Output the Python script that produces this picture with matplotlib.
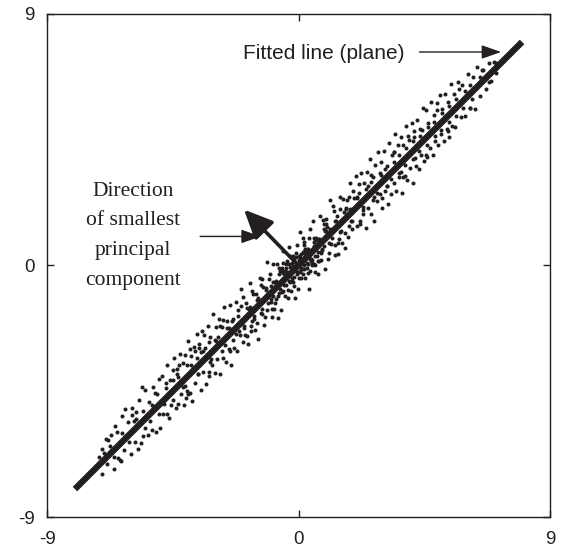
import matplotlib.pyplot as plt

# fitted line end points
line_x = [-8.0, 8.0]
line_y = [-8.0, 8.0]

# direction of smallest principal component (from origin)
pc_start = (0.0, 0.0)
pc_end = (-1.95, 2.0)

tick_vals = [-9, 0, 9]
tick_labels = ['-9', '0', '9']

# scatter points
pts_x = [
    -7.15, -7.02, -6.9, -6.85, -6.7, -6.6, -6.5, -6.45, -6.3, -6.25,
    -6.1, -6.0, -5.95, -5.85, -5.8, -5.7, -5.65, -5.55, -5.5, -5.4,
    -5.35, -5.25, -5.2, -5.1, -5.05, -4.95, -4.9, -4.85, -4.75, -4.7,
    -4.65, -4.6, -4.55, -4.5, -7.05, -6.75, -6.2, -5.9, -5.6, -5.3,
    -5.0, -4.8, -6.55, -6.35, -5.75,
    -4.45, -4.4, -4.35, -4.3, -4.25, -4.2, -4.15, -4.1, -4.05, -4.0,
    -3.95, -3.9, -3.85, -3.8, -3.75, -3.7, -3.65, -3.6, -3.55, -3.5,
    -3.45, -3.4, -3.35, -3.3, -3.25, -3.2, -3.15, -3.1, -3.05, -3.0,
    -2.95, -2.9, -2.85, -2.8, -2.75, -2.7, -2.65, -2.6, -2.55, -2.5,
    -2.45, -2.4, -2.35, -2.3, -2.25, -2.2, -2.15, -2.1, -2.05, -2.0,
    -4.48, -4.12, -3.88, -3.62, -3.38, -3.12, -2.88, -2.62, -2.38, -2.12,
    -4.28, -3.98, -3.72, -3.48, -3.22, -2.98, -2.72, -2.48, -2.22, -4.02,
    -1.98, -1.92, -1.86, -1.8, -1.74, -1.68, -1.62, -1.56, -1.5, -1.44,
    -1.38, -1.32, -1.26, -1.2, -1.14, -1.08, -1.02, -0.96, -0.9, -0.84,
    -0.78, -0.72, -0.66, -0.6, -0.54, -0.48, -0.42, -0.36, -0.3, -0.24,
    -0.18, -0.12, -0.06, 0.0, 0.06, 0.12, 0.18, 0.24, 0.3, 0.36,
    0.42, 0.48, 0.54, 0.6, 0.66, 0.72, 0.78, 0.84, 0.9, 0.96,
    1.02, 1.08, 1.14, 1.2, 1.26, 1.32, 1.38, 1.44, 1.5, 1.56,
    1.62, 1.68, 1.74, 1.8, 1.86, 1.92, 1.98,
    -1.95, -1.89, -1.83, -1.77, -1.71, -1.65, -1.59, -1.53, -1.47, -1.41,
    -1.35, -1.29, -1.23, -1.17, -1.11, -1.05, -0.99, -0.93, -0.87, -0.81,
    -0.75, -0.69, -0.63, -0.57, -0.51, -0.45, -0.39, -0.33, -0.27, -0.21,
    -0.15, -0.09, -0.03, 0.03, 0.09, 0.15, 0.21, 0.27, 0.33, 0.39,
    0.45, 0.51, 0.57, 0.63, 0.69, 0.75, 0.81, 0.87, 0.93, 0.99,
    1.05, 1.11, 1.17, 1.23, 1.29, 1.35, 1.41, 1.47, 1.53, 1.59,
    1.65, 1.71, 1.77, 1.83, 1.89, 1.95,
    -0.7, -0.55, -0.45, -0.35, -0.25, -0.15, -0.1, 0.0, 0.05, 0.1,
    0.2, 0.25, 0.35, 0.4, 0.5, 0.55, 0.65, 0.7, 0.8, -0.6,
    -0.2, 0.15, 0.3, -0.4, -0.05,
    2.05, 2.1, 2.15, 2.2, 2.25, 2.3, 2.35, 2.4, 2.45, 2.5,
    2.55, 2.6, 2.65, 2.7, 2.75, 2.8, 2.85, 2.9, 2.95, 3.0,
    3.05, 3.1, 3.15, 3.2, 3.25, 3.3, 3.35, 3.4, 3.45, 3.5,
    3.55, 3.6, 3.65, 3.7, 3.75, 3.8, 3.85, 3.9, 3.95, 4.0,
    4.05, 4.1, 4.15, 4.2, 4.25, 4.3, 4.35, 4.4, 4.45, 4.5,
    2.08, 2.32, 2.58, 2.82, 3.08, 3.32, 3.58, 3.82, 4.08, 4.32,
    2.18, 2.42, 2.68, 2.92, 3.18, 3.42, 3.68, 3.92, 4.18, 4.42,
    4.55, 4.6, 4.65, 4.7, 4.75, 4.8, 4.85, 4.9, 4.95, 5.0,
    5.05, 5.1, 5.15, 5.2, 5.25, 5.3, 5.35, 5.4, 5.45, 5.5,
    5.55, 5.6, 5.7, 5.8, 5.85, 5.95, 6.05, 6.15, 6.25, 6.3,
    6.4, 6.5, 6.6, 6.7, 6.8, 6.9, 7.0, 7.08, 4.62, 4.88,
    5.12, 5.38, 5.62, 5.88, 6.12,
    # close to the line
    -6.95, -6.6, -6.3, -6.05, -5.8, -5.5, -5.25, -5.0, -4.75, -4.5,
    -4.3, -4.05, -3.85, -3.6, -3.4, -3.15, -2.95, -2.75, -2.55, -2.35,
    -2.15, -1.95, -1.75, -1.6, -1.45, -1.3, -1.15, -1.0, -0.85, -0.7,
    -0.5, -0.3, -0.15, 0.05, 0.25, 0.45, 0.6, 0.8, 0.95, 1.1,
    1.3, 1.5, 1.7, 1.9, 2.1, 2.3, 2.5, 2.7, 2.95, 3.15,
    3.4, 3.6, 3.85, 4.1, 4.35, 4.6, 4.85, 5.1, 5.4, 5.65,
    5.95, 6.2, 6.5, 6.8, 7.05,
    # middle of the band
    -6.8, -6.4, -5.95, -5.55, -5.15, -4.7, -4.35, -3.95, -3.55, -3.2,
    -2.8, -2.45, -2.05, -1.7, -1.35, -0.95, -0.55, -0.15, 0.2, 0.6,
    1.0, 1.4, 1.8, 2.2, 2.6, 3.0, 3.4, 3.75, 4.15, 4.55,
    4.95, 5.35, 5.75, 6.15, 6.55,
    # dense cluster round the origin
    -1.0, -0.9, -0.8, -0.65, -0.5, -0.45, -0.3, -0.25, -0.1, -0.05,
    0.05, 0.1, 0.2, 0.3, 0.35, 0.45, 0.55, 0.6, 0.75, 0.85,
    1.0, -0.35, 0.15, 0.5, -0.6, 0.9, -0.8, 0.4, -0.2, 0.7,
]
pts_y = [
    -6.85, -7.45, -6.2, -7.1, -6.05, -7.3, -5.95, -6.9, -5.4, -6.6,
    -5.6, -6.75, -5.1, -6.3, -5.25, -4.8, -6.35, -5.2, -4.45, -6.05,
    -4.9, -5.9, -4.35, -5.95, -4.6, -5.8, -3.95, -5.3, -4.2, -3.55,
    -5.45, -4.1, -5.0, -3.75, -6.55, -6.45, -5.15, -5.55, -4.35, -5.55,
    -4.05, -4.95, -5.75, -7.0, -6.55,
    -3.3, -5.1, -3.9, -4.95, -3.15, -4.6, -3.5, -5.0, -3.2, -4.5,
    -2.7, -4.55, -3.25, -4.85, -2.9, -4.2, -2.45, -3.9, -2.8, -4.45,
    -2.35, -3.8, -2.95, -4.25, -2.15, -3.95, -2.55, -3.55, -1.75, -3.85,
    -2.2, -3.35, -1.9, -3.9, -2.2, -3.3, -1.5, -3.45, -2.0, -3.0,
    -1.4, -3.55, -1.9, -2.95, -1.3, -3.05, -1.6, -2.5, -0.85, -2.75,
    -4.1, -4.35, -3.0, -3.3, -2.5, -3.35, -2.55, -2.85, -2.0, -2.35,
    -3.55, -3.55, -3.05, -3.1, -2.75, -2.65, -1.95, -2.25, -2.45, -4.75,
    -1.13, -2.47, -1.51, -2.8, -0.64, -1.98, -1.02, -2.31, -1.25, -2.64,
    -0.43, -1.72, -0.76, -1.85, 0.11, -1.33, -0.32, -1.86, -0.6, -1.34,
    0.07, -1.87, -0.21, -0.95, 0.51, -1.08, -0.22, -1.16, 0.35, -0.54,
    0.22, -1.17, 0.74, -0.45, 1.21, -0.13, 0.73, -0.46, 0.6, -0.84,
    1.32, 0.08, 0.99, -0.25, 0.91, 0.17, 1.78, 0.54, 1.5, -0.14,
    1.37, 0.43, 2.34, 1.0, 1.96, 0.37, 1.78, 0.94, 2.45, 0.81,
    1.92, 0.63, 2.34, 1.4, 2.96, 1.32, 2.43,
    -2.15, -1.34, -2.53, -1.57, -2.16, -0.9, -1.79, -1.03, -2.07, -1.26,
    -1.7, -0.49, -2.13, -0.87, -1.61, -0.5, -1.19, 0.07, -1.57, -0.61,
    -1.1, -0.09, -1.58, -0.27, -0.71, 0.05, -0.89, 0.67, -0.92, -0.01,
    -0.4, 0.46, -0.83, 0.33, -0.46, 1.0, -0.14, 0.47, -0.27, 0.99,
    0.25, 1.61, 0.07, 0.98, -0.31, 0.95, 0.21, 1.62, 0.68, 1.49,
    0.25, 1.31, 0.77, 2.13, 0.74, 1.6, 0.41, 2.02, 1.23, 2.39,
    1.15, 2.01, 1.02, 2.03, 1.59, 2.65,
    -0.3, -0.9, -0.1, -0.55, 0.1, -0.05, 0.3, 0.2, -0.2, 0.4,
    0.0, 0.6, 0.05, 0.25, 0.2, 0.85, 0.35, 0.5, 0.45, -0.2,
    -0.6, -0.3, -0.1, 0.15, -0.3,
    3.2, 1.4, 2.6, 1.5, 3.3, 1.85, 2.95, 1.35, 3.35, 2.05,
    3.8, 1.85, 3.15, 1.6, 3.6, 2.3, 4.05, 2.55, 3.7, 2.05,
    4.1, 2.65, 3.55, 2.2, 4.4, 2.55, 3.95, 2.95, 4.7, 2.65,
    4.3, 3.15, 4.6, 2.6, 4.3, 3.2, 5.0, 3.05, 4.5, 3.5,
    5.1, 2.95, 4.6, 3.55, 5.2, 3.45, 4.9, 3.95, 5.65, 3.75,
    2.45, 2.1, 3.0, 2.6, 3.45, 3.1, 3.95, 3.6, 4.45, 4.1,
    2.9, 2.75, 2.35, 3.3, 2.85, 4.05, 3.35, 4.65, 3.85, 4.85,
    5.55, 3.9, 5.1, 4.2, 5.85, 3.95, 5.4, 4.45, 5.8, 4.3,
    6.1, 4.7, 5.6, 4.45, 6.15, 4.9, 5.85, 4.6, 6.5, 5.0,
    6.15, 4.95, 6.55, 5.3, 6.45, 5.35, 6.85, 5.65, 6.75, 5.6,
    7.1, 6.05, 7.0, 6.3, 7.25, 6.6, 7.3, 6.9, 4.95, 4.65,
    5.45, 5.15, 5.95, 5.65, 6.45,
    # close to the line
    -6.7, -6.85, -6.0, -6.3, -5.5, -5.8, -5.0, -5.3, -4.4, -4.8,
    -4.0, -4.3, -3.55, -3.9, -3.05, -3.45, -2.7, -3.05, -2.25, -2.65,
    -1.8, -2.25, -1.5, -1.9, -1.15, -1.55, -0.8, -1.3, -0.6, -1.0,
    -0.2, -0.6, 0.2, -0.25, 0.55, 0.15, 0.95, 0.5, 1.25, 0.8,
    1.6, 1.2, 2.05, 1.6, 2.4, 2.0, 2.85, 2.45, 3.25, 2.85,
    3.7, 3.3, 4.2, 3.8, 4.65, 4.3, 5.15, 4.85, 5.7, 5.35,
    6.25, 5.95, 6.75, 6.55, 7.25,
    # middle of the band
    -6.25, -6.95, -5.35, -6.1, -4.55, -5.3, -3.7, -4.6, -2.95, -3.8,
    -2.15, -3.05, -1.45, -2.35, -0.7, -1.55, 0.1, -0.75, 0.85, 0.0,
    1.65, 0.8, 2.45, 1.6, 3.25, 2.4, 4.05, 3.15, 4.8, 3.95,
    5.55, 4.8, 6.3, 5.65, 7.0,
    # dense cluster round the origin
    -0.75, -1.1, -0.55, -0.85, -0.35, -0.7, -0.05, -0.45, 0.1, -0.25,
    0.3, -0.1, 0.45, 0.1, 0.6, 0.25, 0.7, 0.35, 0.95, 0.6,
    1.25, 0.05, 0.5, 0.0, -0.1, 1.3, -1.2, -0.2, 0.35, 0.15,
]

ink = '#231f20'
plt.rcParams['font.family'] = ['Liberation Sans', 'DejaVu Sans']

fig = plt.figure(figsize=(5.61, 5.51), dpi=100)
ax = fig.add_axes([0.0838, 0.0617, 0.8966, 0.9129])

ax.plot(pts_x, pts_y, 'o', ms=2.9, mew=0, color=ink, zorder=2)
ax.plot(line_x, line_y, '-', lw=4.6, color=ink, solid_capstyle='butt', zorder=3)

# principal component arrow
ax.annotate('', xy=pc_end, xytext=pc_start,
            arrowprops=dict(arrowstyle='-|>,head_length=0.7,head_width=0.32',
                            mutation_scale=25, lw=2.6, color=ink,
                            shrinkA=0, shrinkB=0), zorder=4)

# labels with pointer arrows
ax.text(-2.0, 7.6, 'Fitted line (plane)', fontsize=15, color=ink,
        ha='left', va='center')
ax.annotate('', xy=(7.25, 7.64), xytext=(4.33, 7.64),
            arrowprops=dict(arrowstyle='-|>,head_length=0.8,head_width=0.28',
                            mutation_scale=15, lw=1.0, color=ink,
                            shrinkA=0, shrinkB=0))

serif = ['Liberation Serif', 'DejaVu Serif']
for txt, yy in zip(['Direction', 'of smallest', 'principal', 'component'],
                   [2.66, 1.62, 0.54, -0.53]):
    ax.text(-5.92, yy, txt, fontsize=15.5, family=serif, color=ink,
            ha='center', va='center')
ax.annotate('', xy=(-1.35, 1.04), xytext=(-3.52, 1.04),
            arrowprops=dict(arrowstyle='-|>,head_length=0.8,head_width=0.28',
                            mutation_scale=15, lw=1.0, color=ink,
                            shrinkA=0, shrinkB=0))

ax.set_xlim(-9, 9)
ax.set_ylim(-9, 9)
ax.set_xticks(tick_vals)
ax.set_xticklabels(tick_labels)
ax.set_yticks(tick_vals)
ax.set_yticklabels(tick_labels)
ax.tick_params(direction='in', length=5, width=1, color=ink, labelsize=13.5,
               top=True, right=True, labelcolor=ink)
ax.tick_params(axis='x', pad=10)
ax.tick_params(axis='y', pad=9)
for s in ax.spines.values():
    s.set_color(ink)
    s.set_linewidth(1.0)

fig.savefig('out.png', dpi=100)
